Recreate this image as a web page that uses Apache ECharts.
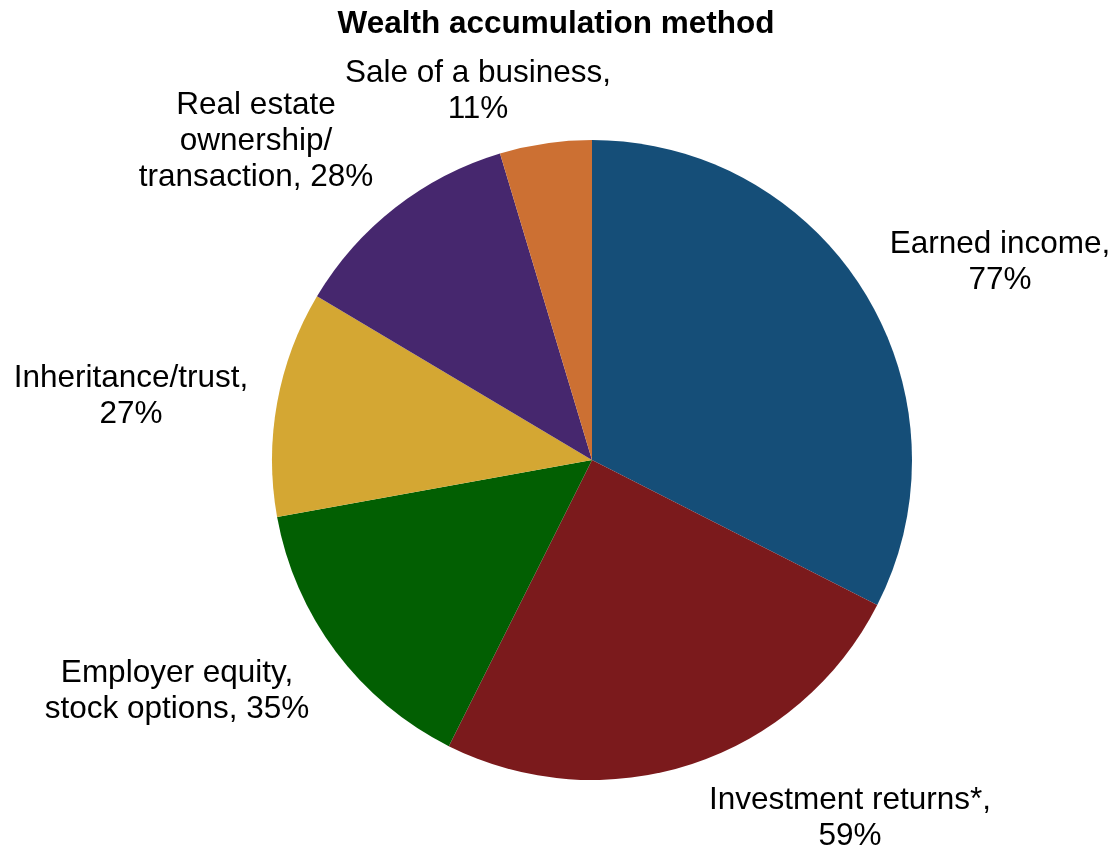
<!DOCTYPE html>
<html><head><meta charset="utf-8">
<script src="https://cdn.jsdelivr.net/npm/echarts@6/dist/echarts.min.js"></script>
<style>html,body{margin:0;padding:0;background:#fff}#c{width:1113px;height:849px}</style>
</head><body><div id="c"></div>
<script>
const categories = ["Earned income", "Investment returns*", "Employer equity, stock options", "Inheritance/trust", "Real estate ownership/transaction", "Sale of a business"];
const labelTexts = ["Earned income,\n77%", "Investment returns*,\n59%", "Employer equity,\nstock options, 35%", "Inheritance/trust,\n27%", "Real estate\nownership/\ntransaction, 28%", "Sale of a business,\n11%"];
const values = [77, 59, 35, 27, 28, 11];
const colors = ["#154e78", "#7b1a1c", "#025f02", "#d4a733", "#46276e", "#cc7033"];
// label block centres (layout, px)
const labelCenters = [[1000, 262], [850, 818], [177, 691], [131, 396], [256, 141], [478, 91]];

const chart = echarts.init(document.getElementById('c'));
chart.setOption({
  animation: false,
  title: {
    text: 'Wealth accumulation method', left: 551, top: 3, textAlign: 'center',
    textStyle: { fontFamily: 'Liberation Sans, Arial, sans-serif', fontSize: 31.5, fontWeight: 'bold', color: '#000' }
  },
  series: [{
    type: 'pie',
    center: [592, 460],
    radius: [0, 320],
    startAngle: 90,
    clockwise: true,
    avoidLabelOverlap: false,
    itemStyle: { borderWidth: 0 },
    label: {
      show: true, position: 'outside',
      formatter: p => labelTexts[p.dataIndex],
      fontFamily: 'Liberation Sans, Arial, sans-serif', fontSize: 31.5, lineHeight: 36, color: '#000',
      align: 'center'
    },
    labelLine: { show: false },
    labelLayout: function (params) {
      const c = labelCenters[params.dataIndex];
      return { x: c[0], y: c[1], align: 'center', verticalAlign: 'middle' };
    },
    data: categories.map((n, i) => ({ name: n, value: values[i], itemStyle: { color: colors[i] } }))
  }]
});
</script></body></html>
